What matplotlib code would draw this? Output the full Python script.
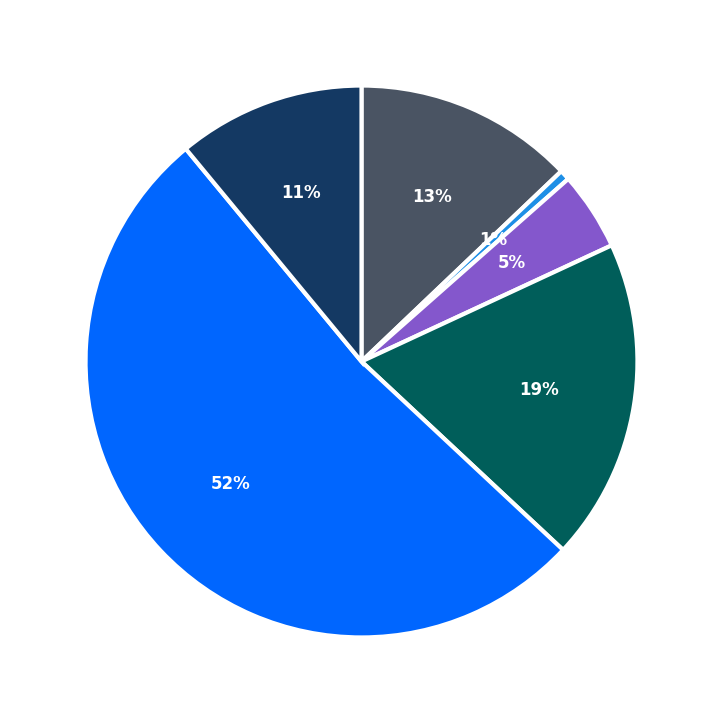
import matplotlib
matplotlib.use("Agg")
import matplotlib.pyplot as plt

# slice shares (percent), clockwise from 12 o'clock
labels = ["A", "B", "C", "D", "E", "F"]
values = [12.9, 0.6, 4.6, 18.9, 52.1, 11.0]
colors = ["#4a5463", "#1e8fe6", "#8457cc", "#005e5a", "#0066ff", "#143963"]

fig = plt.figure(figsize=(7.23, 7.23), dpi=100)
ax = fig.add_axes([0, 0, 1, 1])
wedges, texts, autotexts = ax.pie(
    values,
    colors=colors,
    startangle=90,
    counterclock=False,
    autopct="%.0f%%",
    pctdistance=0.65,
    wedgeprops={"edgecolor": "white", "linewidth": 3},
    textprops={"color": "white", "fontsize": 12, "fontweight": "bold"},
)
ax.set_xlim(-1.31, 1.31)
ax.set_ylim(-1.31, 1.31)
ax.set_aspect("equal")
ax.axis("off")
fig.savefig("out.png", dpi=100)
